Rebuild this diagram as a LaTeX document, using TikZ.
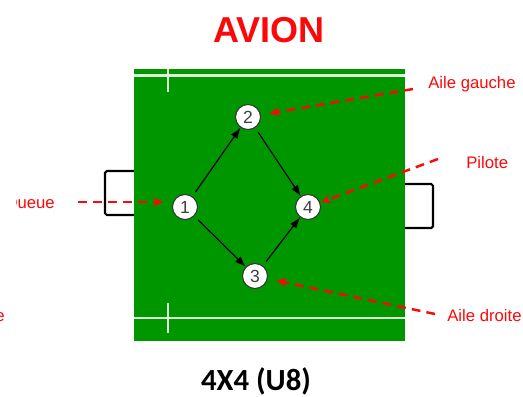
\documentclass[tikz,border=0pt]{standalone}
\usepackage{fontspec}
\setmainfont{Liberation Sans}
\newfontfamily\calibri{Carlito}
\usetikzlibrary{arrows.meta}
\definecolor{fieldgreen}{RGB}{0,150,0}
\definecolor{linewhite}{RGB}{225,240,220}
\definecolor{tagred}{RGB}{252,8,8}

\begin{document}
\begin{tikzpicture}[x=0.02cm, y=-0.02cm,
  player/.style={circle, draw=black!80, fill=white, line width=0.6pt, minimum size=0.5cm, inner sep=0pt, text=black!75, font=\fontsize{10}{12}\selectfont},
  pass/.style={-{Latex[length=2.2mm,width=1.6mm]}, line width=0.7pt, shorten <=3pt},
  tag/.style={text=tagred, inner sep=0pt, font=\fontsize{9.5}{11}\selectfont},
  pointer/.style={tagred, dash pattern=on 5pt off 3.5pt, line width=1.4pt, -{Stealth[length=2mm,width=1.8mm]}, shorten >=5pt},
  goal/.style={line width=1.2pt, rounded corners=1pt},
  fieldline/.style={linewhite, line width=1.6pt}]

\useasboundingbox (0,0) rectangle (523,396);

\node[text=tagred, font=\bfseries\fontsize{20.5}{24}\selectfont] (title) at (269,30) {AVION};

% goals and field
\draw[goal] (134,171) -- (105,171) -- (105,215) -- (134,215);
\draw[goal] (405,184) -- (433,184) -- (433,228) -- (405,228);
\fill[fieldgreen] (134,69) rectangle (405,341);
\draw[fieldline] (134,75.5) -- (405,75.5);
\draw[fieldline] (168,69) -- (168,92);
\draw[fieldline] (134,318) -- (405,318);
\draw[fieldline] (168,303) -- (168,333);

% players
\node[player] (p1) at (185,207) {1};
\node[player] (p2) at (248,117) {2};
\node[player] (p3) at (255,276) {3};
\node[player] (p4) at (308,207) {4};

\draw[pass] (p1) -- (p2);
\draw[pass] (p2) -- (p4);
\draw[pass] (p1) -- (p3);
\draw[pass] (p3) -- (p4);

% labels
\begin{scope}
  \clip (16.5,180) rectangle (80,230);
  \node[tag, anchor=base east] (queue) at (55,208) {Queue};
\end{scope}
\node[tag, anchor=base east] (cut) at (5,321) {e};
\node[tag, anchor=base west] (gauche) at (428,88) {Aile gauche};
\node[tag, anchor=base west] (pilote) at (466,168) {Pilote};
\node[tag, anchor=base west] (droite) at (447,321) {Aile droite};

\coordinate (queueS) at (78,202);
\coordinate (gaucheS) at (413,89);
\coordinate (piloteS) at (438,159);
\coordinate (droiteS) at (435,314);

\draw[pointer] (queueS) -- (queueS -| p1.west);
\draw[pointer] (gaucheS) -- (p2);
\draw[pointer, shorten >=0.5pt] (piloteS) -- (p4);
\draw[pointer] (droiteS) -- (p3);

\node[font=\calibri\bfseries\fontsize{17.5}{20}\selectfont, anchor=base] (format) at (256,390) {4X4 (U8)};
\end{tikzpicture}
\end{document}
